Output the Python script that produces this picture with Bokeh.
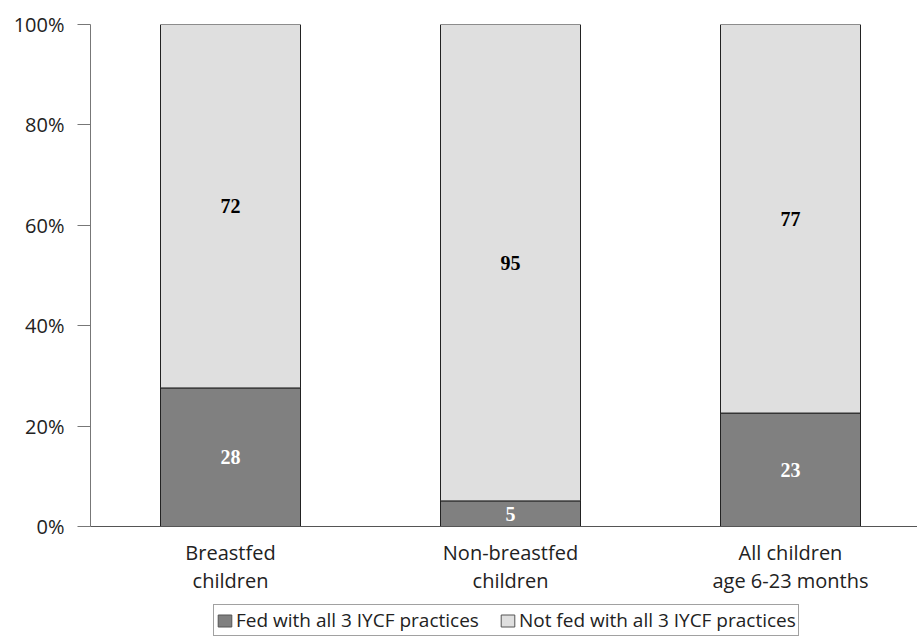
from bokeh.plotting import figure
from bokeh.layouts import column
from bokeh.models import ColumnDataSource, Range1d, FixedTicker, PrintfTickFormatter, Legend, LegendItem
from bokeh.core.properties import value
from bokeh.embed import file_html
from bokeh.resources import INLINE

categories = ["Breastfed\nchildren", "Non-breastfed\nchildren", "All children\nage 6-23 months"]
fed = [27.6, 5.1, 22.6]
not_fed = [72.4, 94.9, 77.4]
fed_labels = ["28", "5", "23"]
not_fed_labels = ["72", "95", "77"]
series_names = ["Fed with all 3 IYCF practices", "Not fed with all 3 IYCF practices"]
series_colors = ["#808080", "#dfdfdf"]
y_ticks = [0, 20, 40, 60, 80, 100]

xs = [i + 0.5 for i in range(len(categories))]
src = ColumnDataSource(dict(
    x=xs, fed=fed, not_fed=not_fed,
    fed_mid=[f / 2 for f in fed],
    nf_mid=[f + n / 2 for f, n in zip(fed, not_fed)],
    fed_lab=fed_labels, nf_lab=not_fed_labels,
))

FONT = "Open Sans"
p = figure(width=917, height=600, output_backend="svg", toolbar_location=None,
           x_range=Range1d(0, 827 / 280), y_range=Range1d(0, 100),
           min_border_left=90, min_border_top=24, min_border_right=0, min_border_bottom=74)
p.outline_line_color = None
p.xgrid.grid_line_color = None
p.ygrid.grid_line_color = None

rs = p.vbar_stack(["fed", "not_fed"], x="x", width=0.5, source=src,
                  color=series_colors, line_color="#222222", line_width=1)

p.text(x="x", y="fed_mid", text="fed_lab", source=src, text_align="center", text_baseline="middle",
       text_font=value("Liberation Serif"), text_font_style="bold", text_font_size="20px", text_color="white")
p.text(x="x", y="nf_mid", text="nf_lab", source=src, text_align="center", text_baseline="middle",
       text_font=value("Liberation Serif"), text_font_style="bold", text_font_size="20px", text_color="black")

ya = p.yaxis[0]
ya.ticker = FixedTicker(ticks=y_ticks)
ya.formatter = PrintfTickFormatter(format="%d%%")
ya.minor_tick_line_color = None
ya.major_tick_out = 13
ya.major_tick_in = 0
ya.axis_line_color = "#777777"
ya.major_tick_line_color = "#777777"
ya.major_label_text_font = FONT
ya.major_label_text_font_size = "20px"
ya.major_label_text_color = "#222222"
ya.major_label_standoff = 13

xa = p.xaxis[0]
xa.ticker = FixedTicker(ticks=xs)
xa.major_label_overrides = {x: c for x, c in zip(xs, categories)}
xa.major_tick_line_color = None
xa.major_tick_out = 0
xa.major_tick_in = 0
xa.minor_tick_line_color = None
xa.minor_tick_out = 0
xa.axis_line_color = "#555555"
xa.major_label_text_font = FONT
xa.major_label_text_font_size = "20px"
xa.major_label_text_line_height = 1.05
xa.major_label_text_color = "#222222"
xa.major_label_standoff = 12

# legend strip underneath (its frame is aligned with the main frame by the column layout)
p2 = figure(width=917, height=37, output_backend="svg", toolbar_location=None,
            x_range=Range1d(0, 1), y_range=Range1d(0, 1), x_axis_type=None, y_axis_type=None,
            min_border_left=0, min_border_right=0, min_border_top=0, min_border_bottom=0)
p2.outline_line_color = None
p2.xgrid.grid_line_color = None
p2.ygrid.grid_line_color = None
dummy = [p2.vbar(x=[-10], top=[0], width=0.1, fill_color=c, line_color="#555555", line_width=1)
         for c in series_colors]

legend = Legend(items=[LegendItem(label=series_names[i], renderers=[dummy[i]]) for i in range(2)],
                orientation="horizontal", location=(123, 1))
legend.label_text_font = FONT
legend.label_text_font_size = "19px"
legend.label_text_color = "#222222"
legend.label_height = 20
legend.glyph_width = 17
legend.glyph_height = 15
legend.label_standoff = 3
legend.spacing = 20
legend.padding = 2
legend.margin = 0
legend.border_line_color = "#444444"
legend.border_line_width = 1
legend.background_fill_color = "white"
p2.add_layout(legend)

layout = column(p, p2, spacing=0)
open("out.html", "w").write(file_html(layout, INLINE))
